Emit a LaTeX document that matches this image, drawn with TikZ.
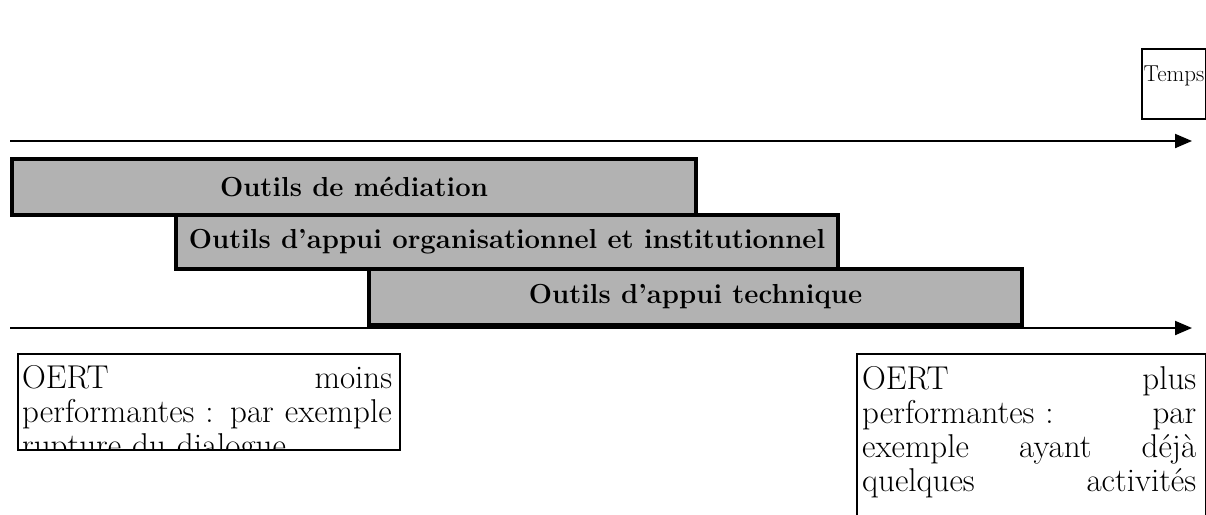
\documentclass[tikz,border=0pt]{standalone}
\usetikzlibrary{arrows.meta}
\begin{document}
\begin{tikzpicture}[x=1pt,y=-1pt,
  bar/.style={draw=black, line width=4pt, fill=black!30, inner sep=0pt, anchor=north west,
              font=\fontsize{27.5}{30}\selectfont\bfseries},
  frame/.style={draw=black, line width=1.5pt, inner sep=0pt, anchor=north west},
  axis/.style={line width=2pt, -{Triangle[length=17pt,width=14pt]}},
  txt/.style={font=\fontsize{33}{34}\selectfont, inner sep=0pt, anchor=north west, align=left},
]
\useasboundingbox (0,0) rectangle (1206,514);

% Temps box
\node[frame, minimum width=64pt, minimum height=70pt] (tb) at (1141,48) {};
\node[font=\fontsize{23}{25}\selectfont, inner sep=0pt] (tt) at (1174,76) {Temps};

% time axes
\coordinate (u0) at (10,141);
\coordinate (u1) at (1192,141);
\draw[axis] (u0) -- (u1);

% bars
\node[bar, minimum width=684pt, minimum height=56pt] (b1) at (10,157) {Outils de médiation};
\node[bar, minimum width=662pt, minimum height=54pt] (b2) at (174,213) {Outils d’appui organisationnel et institutionnel};
\node[bar, minimum width=653pt, minimum height=56pt] (b3) at (367,267) {Outils d’appui technique};

\coordinate (l0) at (10,328);
\coordinate (l1) at (1192,328);
\draw[axis] (l0) -- (l1);

% left box
\node[frame, minimum width=382pt, minimum height=96pt] (lb) at (17,353) {};
\begin{scope}
  \clip (lb.north west) rectangle (lb.south east);
  \node[txt, text width=370pt] (lt) at (22,365.5) {OERT\hfill moins\\performantes : par exemple\\rupture du dialogue};
\end{scope}

% right box
\node[frame, minimum width=349pt, minimum height=180pt] (rb) at (856,353) {};
\node[txt, text width=334pt] (rt) at (862,366) {OERT\hfill plus\\performantes :\hfill par\\exemple\hfill ayant\hfill déjà\\quelques\hfill activités};
\end{tikzpicture}
\end{document}
